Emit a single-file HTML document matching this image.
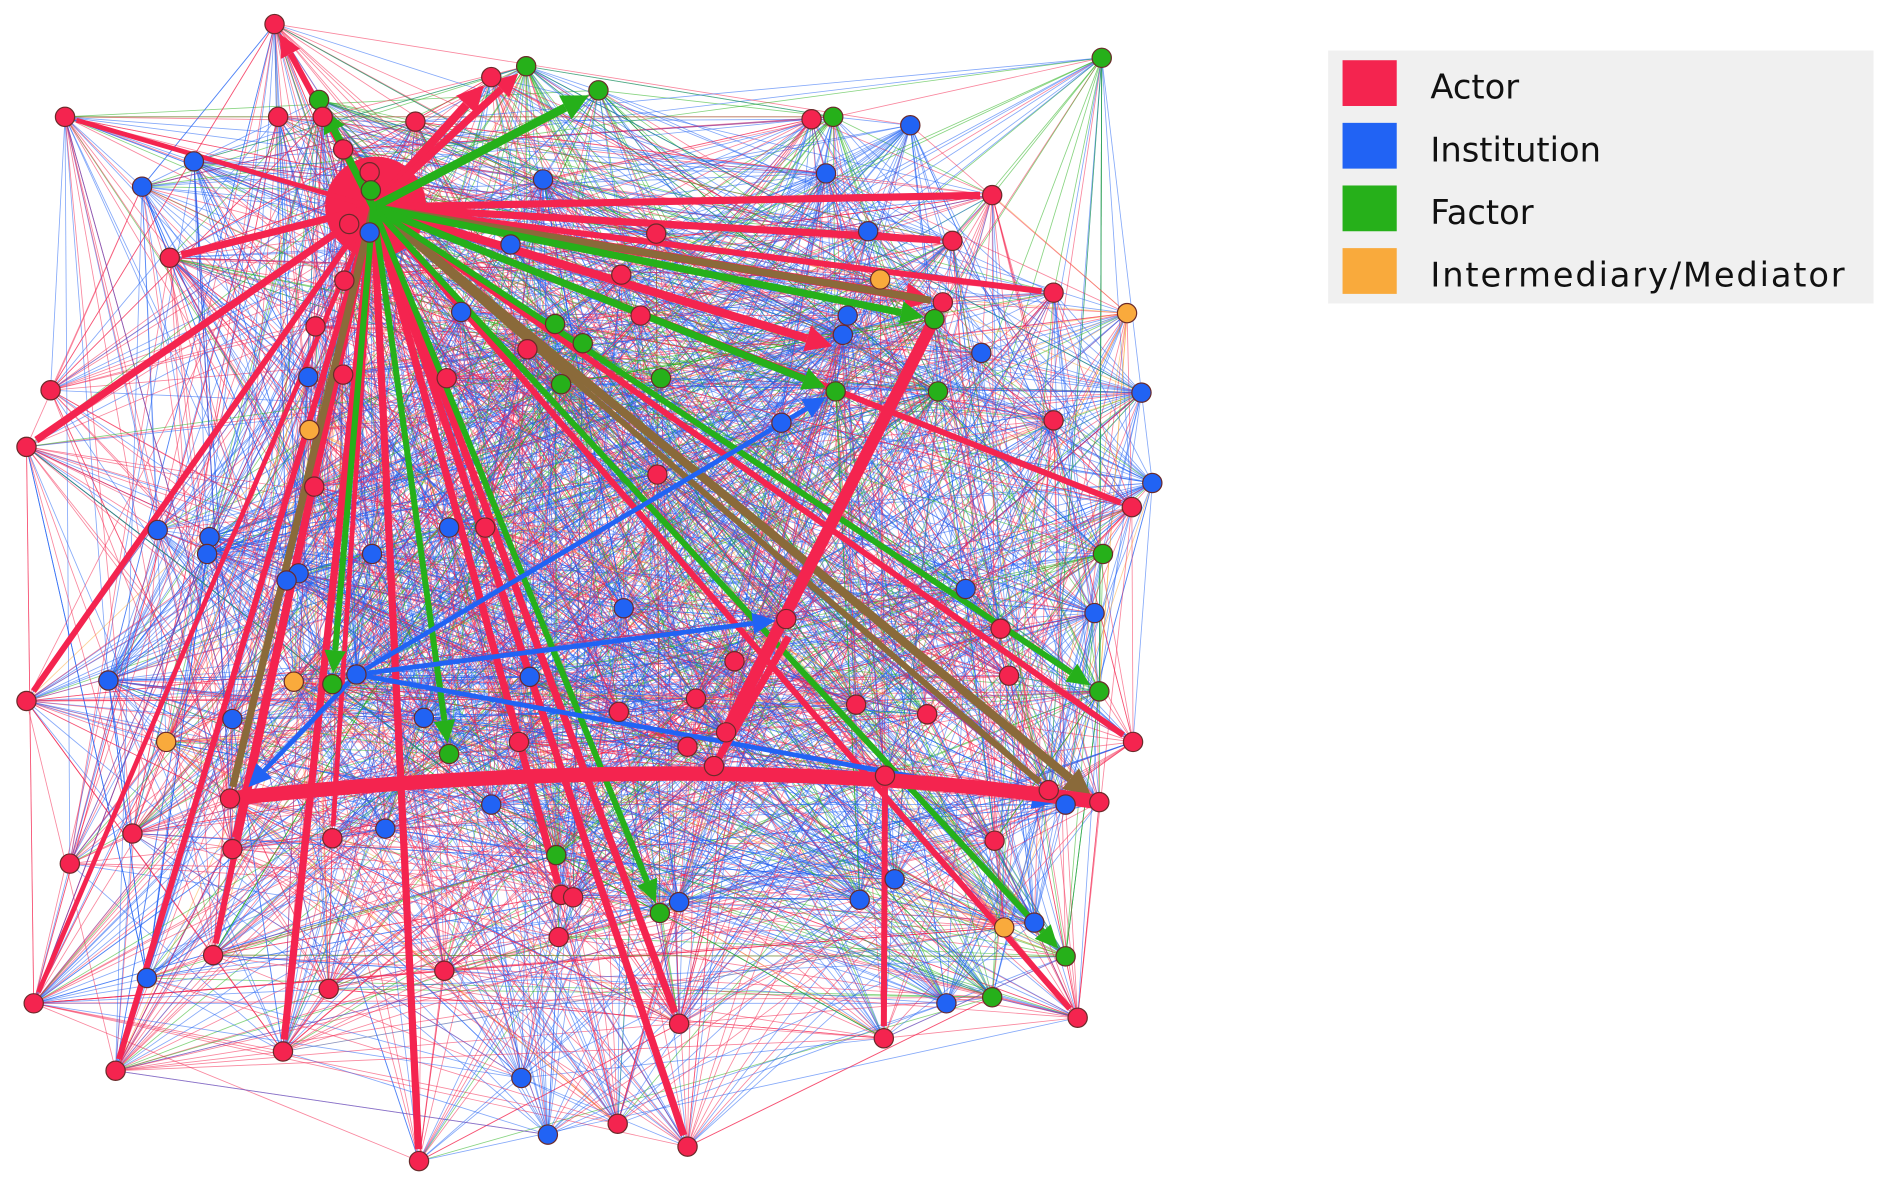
<!DOCTYPE html>
<html><head><meta charset="utf-8"><style>
html,body{margin:0;padding:0;background:#fff;}
#wrap{position:relative;width:1888px;height:1190px;overflow:hidden;}
svg{position:absolute;left:0;top:0;}
</style></head><body><div id="wrap">
<svg id="g" width="1888" height="1190" viewBox="0 0 1568 988" preserveAspectRatio="none" xmlns="http://www.w3.org/2000/svg">
<g id="thin"></g><g id="thick"></g><g id="nodes"></g>
<rect x="1103" y="42" width="453" height="210" fill="#f0f0f0"/>
<rect x="1115" y="50" width="45" height="38" fill="#f4244f"/>
<rect x="1115" y="102" width="45" height="38" fill="#2163f4"/>
<rect x="1115" y="154" width="45" height="38" fill="#26b01a"/>
<rect x="1115" y="206" width="45" height="38" fill="#f9aa3c"/>
<g font-family="DejaVu Sans, sans-serif" font-size="28" fill="#111">
<text x="1188" y="82">Actor</text>
<text x="1188" y="134">Institution</text>
<text x="1188" y="186">Factor</text>
<text x="1188" y="238" textLength="344">Intermediary/Mediator</text>
</g>
</svg>
<script>
var C={r:"#f4244f",b:"#2163f4",g:"#26b01a",o:"#f9aa3c",n:"#8a6a3a"};
var N="r 228,20;r 408,64;g 437,55;g 497,75;g 915,48;r 54,97;g 265,83;r 231,97;r 268,97;r 345,101;r 285,124;r 307,143;g 308,158;r 290,186;b 307,193;b 161,134;b 118,155;b 451,149;r 674,99;g 692,97;b 756,104;b 686,144;r 824,162;b 721,192;r 791,200;r 545,194;b 424,203;r 141,214;r 516,228;r 286,233;o 731,232;r 783,251;r 875,243;o 936,260;b 383,259;r 532,262;g 461,269;g 484,285;b 704,262;b 700,278;g 776,265;r 262,271;r 438,290;b 815,293;g 466,319;g 549,314;g 694,325;g 779,325;b 256,313;r 285,311;r 371,314;r 42,324;r 22,371;o 257,357;b 649,351;r 875,349;b 948,326;b 957,401;r 940,421;r 546,394;r 261,404;b 131,440;b 174,446;b 172,460;b 373,438;r 403,438;b 248,476;b 238,482;b 309,460;g 916,460;b 518,505;b 802,489;r 653,514;r 831,522;b 909,509;r 22,582;b 90,565;o 244,566;g 276,568;b 296,560;b 440,562;r 610,549;r 838,561;g 913,574;b 193,597;b 352,596;r 514,591;r 578,580;r 711,585;r 770,593;r 941,616;o 138,616;g 373,626;r 431,616;r 571,620;r 603,608;r 593,636;r 735,644;r 871,656;b 885,668;r 913,666;r 191,663;b 408,668;r 110,692;r 276,696;b 320,688;r 193,705;r 58,717;r 826,698;g 462,710;b 714,747;b 743,730;b 564,749;g 548,758;r 466,743;r 476,745;r 464,778;o 834,770;b 859,766;g 885,794;r 177,793;b 122,812;r 369,806;r 273,821;r 28,833;b 786,833;g 824,828;r 895,845;r 564,850;r 734,862;r 235,873;r 96,889;b 433,895;b 455,942;r 513,933;r 571,952;r 348,964".split(";").map(function(s){var p=s.split(" "),q=p[1].split(",");return {c:p[0],x:+q[0],y:+q[1]};});
var ns="http://www.w3.org/2000/svg";
function el(t,a,par){var e=document.createElementNS(ns,t);for(var k in a)e.setAttribute(k,a[k]);par.appendChild(e);return e;}
var seed=7;function rnd(){seed=(seed*16807)%2147483647;return seed/2147483647;}
var thin=document.getElementById("thin"),thick=document.getElementById("thick"),nodes=document.getElementById("nodes");
var s="";
for(var i=0;i<3400;i++){var a=N[Math.floor(rnd()*N.length)],b=N[Math.floor(rnd()*N.length)];
 var d=Math.hypot(a.x-b.x,a.y-b.y);if(d>650&&rnd()<0.65)continue;
 var c=a.c=="o"?(rnd()<0.5?"o":"r"):(rnd()<0.25?"b":a.c);
 s+='<line x1="'+a.x+'" y1="'+a.y+'" x2="'+b.x+'" y2="'+b.y+'" stroke="'+C[c]+'" stroke-width="0.7" stroke-opacity="0.55"/>';}
thin.innerHTML=s;
var H=[310,172];
el("circle",{cx:312,cy:172,r:42,fill:C.r},thick);
function arrow(x1,y1,x2,y2,c,w,head){var col=C[c];
 var dx=x2-x1,dy=y2-y1,L=Math.hypot(dx,dy),ux=dx/L,uy=dy/L;
 var hl=head?Math.max(18,w*3):0,ex=x2-ux*(10+hl),ey=y2-uy*(10+hl);
 el("line",{x1:x1,y1:y1,x2:ex,y2:ey,stroke:col,"stroke-width":w,"stroke-linecap":"butt"},thick);
 if(head){var hw=Math.max(9,w*1.6),tx=x2-ux*9,ty=y2-uy*9;
  el("polygon",{points:tx+","+ty+" "+(ex-uy*hw)+","+(ey+ux*hw)+" "+(ex+uy*hw)+","+(ey-ux*hw),fill:col},thick);}}
var R=[[228,20,5,1],[408,64,7,1],[437,55,6,1],[824,162,6,0],[791,200,6,0],[875,243,5,0],[22,371,6,0],[22,582,5,0],[28,833,4,0],[96,889,5,0],[177,793,5,0],[235,873,6,0],[348,964,6,0],[571,952,6,0],[564,850,6,0],[141,214,6,0],[54,97,4,0],[940,421,5,0],[941,616,5,0],[895,845,5,0],[783,251,7,1],[700,290,7,1],[193,705,5,0],[276,696,4,0],[466,743,6,0]];
R.forEach(function(t){arrow(H[0],H[1],t[0],t[1],"r",t[2],t[3]);});
[[913,666,7],[191,663,6],[783,251,6],[871,656,5]].forEach(function(t){arrow(H[0],H[1],t[0],t[1],"n",t[2],t[2]>6);});
[[497,75,7],[776,265,6],[694,325,6],[913,574,5],[885,794,5],[548,758,5],[373,626,5],[276,568,5],[265,83,6]].forEach(function(t){arrow(H[0],H[1],t[0],t[1],"g",t[2],1);});
[[694,325,4],[653,514,4],[885,668,4],[200,660,4]].forEach(function(t){arrow(296,560,t[0],t[1],"b",t[2],1);});
el("path",{d:"M191 663 Q593 620 913 666",stroke:C.r,"stroke-width":12,fill:"none"},thick);
arrow(603,608,783,251,"r",10,0);arrow(593,636,660,520,"r",6,0);arrow(735,644,734,862,"r",5,0);
N.forEach(function(n){el("circle",{cx:n.x,cy:n.y,r:8,fill:C[n.c],stroke:"#6a2a2a","stroke-width":1},nodes);});
</script>
</div></body></html>
